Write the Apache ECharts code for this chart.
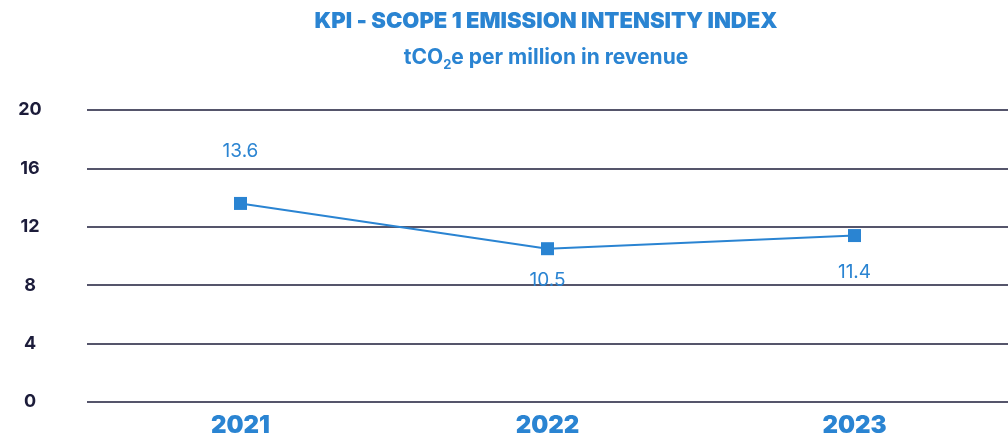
<!DOCTYPE html>
<html>
<head>
<meta charset="utf-8">
<script src="https://cdn.jsdelivr.net/npm/echarts@6/dist/echarts.min.js"></script>
<style>
  html, body { margin: 0; padding: 0; background: #fff; }
  #chart { width: 1008px; height: 442px; }
</style>
</head>
<body>
<div id="chart"></div>
<script>
let years = ["2021", "2022", "2023"];
let intensity = [13.6, 10.5, 11.4];
let yTicks = [0, 4, 8, 12, 16, 20];

let blue = "#2a84d2";
let navy = "#1c1c3a";

let dom = document.getElementById("chart");
let myChart = echarts.init(dom, null, { renderer: "canvas" });

// label above for the first point, below for the others
let labelPos = [
    { position: "top", distance: 36 },
    { position: "bottom", distance: 16 },
    { position: "bottom", distance: 21 },
];

let option = {
    animation: false,
    title: [{
        text: "KPI - SCOPE 1 EMISSION INTENSITY INDEX",
        left: 541,
        top: 5,
        textAlign: "center",
        textStyle: {
            color: blue,
            fontFamily: "Inter",
            fontWeight: 900,
            fontSize: 22,
        },
    }, {
        text: "tCO{sub|2}e per million in revenue",
        left: 541,
        top: 38,
        textAlign: "center",
        textStyle: {
            color: blue,
            fontFamily: "Inter",
            fontWeight: 700,
            fontSize: 21,
            rich: {
                sub: {
                    color: blue,
                    fontFamily: "Inter",
                    fontWeight: 700,
                    fontSize: 13,
                    padding: [16, 0, 0, 0],
                },
            },
        },
    }],
    grid: {
        left: 87,
        right: -5,
        top: 110,
        bottom: 40,
    },
    xAxis: {
        type: "category",
        data: years,
        axisLine: { show: false },
        axisTick: { show: false },
        axisLabel: {
            color: blue,
            fontFamily: "Inter",
            fontWeight: 900,
            fontSize: 24,
            margin: 12,
        },
    },
    yAxis: {
        type: "value",
        min: yTicks[0],
        max: yTicks[yTicks.length - 1],
        interval: 4,
        axisLine: { show: false },
        axisTick: { show: false },
        axisLabel: {
            color: navy,
            fontFamily: "Inter",
            fontWeight: 700,
            fontSize: 18,
            align: "center",
            margin: 57,
        },
        splitLine: {
            lineStyle: { color: navy, width: 1.5 },
        },
    },
    series: [{
        type: "line",
        data: intensity.map((v, i) => ({ value: v, label: labelPos[i] })),
        symbol: "rect",
        symbolSize: 13,
        lineStyle: { color: blue, width: 2 },
        itemStyle: { color: blue },
        label: {
            show: true,
            color: blue,
            fontFamily: "Inter",
            fontSize: 19,
        },
    }],
};

myChart.setOption(option);
window.addEventListener("resize", myChart.resize);
</script>
</body>
</html>
